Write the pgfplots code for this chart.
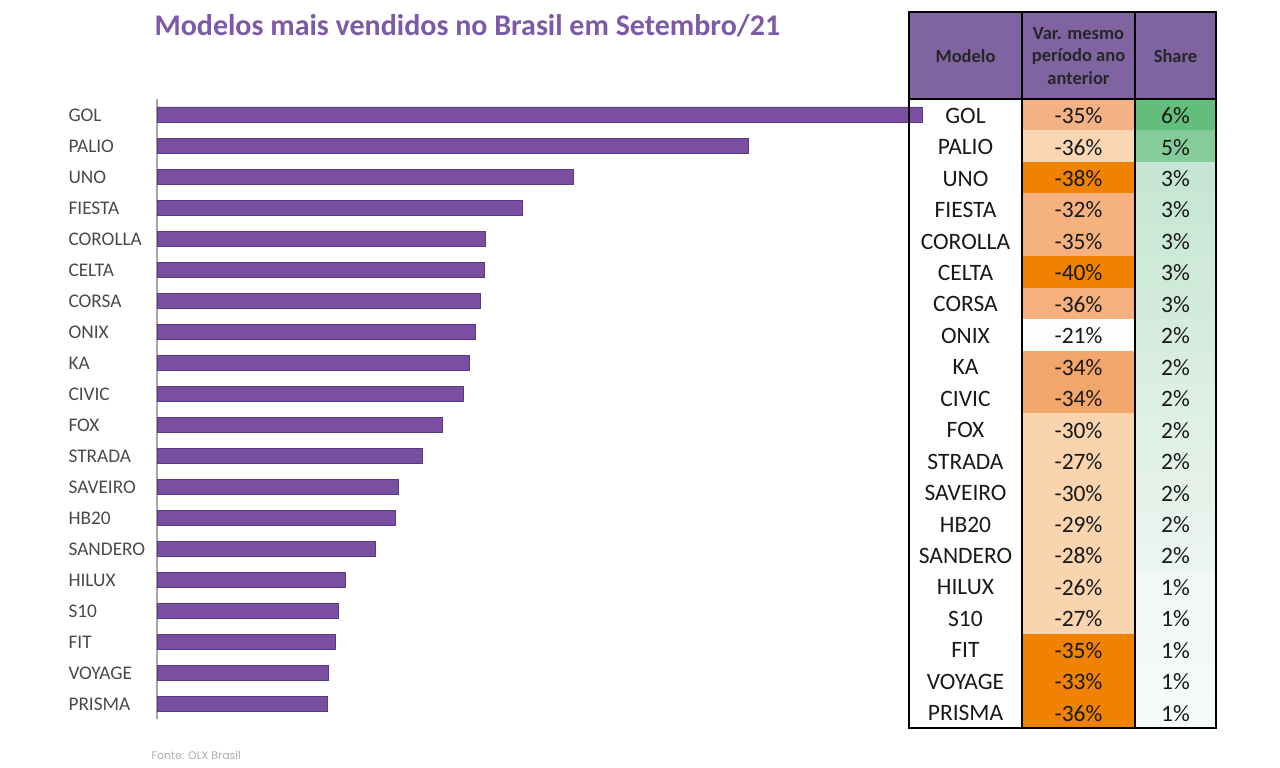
\documentclass[border=0pt]{standalone}
\usepackage{fontspec}
\setmainfont{Carlito}
\newfontfamily\fontefont{Poppins}
\usepackage{pgfplots}
\pgfplotsset{compat=1.18}

\definecolor{barpurple}{HTML}{7A4EA0}
\definecolor{bardark}{HTML}{5A3A7E}
\definecolor{headpurple}{HTML}{8064A2}
\definecolor{titlepurple}{HTML}{7E5AA6}
\definecolor{labelgray}{HTML}{4A4A4A}

\begin{document}
\begin{tikzpicture}[x=1pt,y=1pt]
\useasboundingbox (0,0) rectangle (1280,768);

% title
\node[anchor=west, text=titlepurple, font=\fontsize{30}{34}\selectfont\bfseries]
  at (151,742) {Modelos mais vendidos no Brasil em Setembro/21};

\begin{axis}[
  at={(157pt,49pt)}, anchor=south west,
  scale only axis,
  width=765pt, height=620pt,
  xbar,
  bar width=15pt,
  xmin=0, xmax=765,
  ymin=-0.5, ymax=19.5,
  y dir=reverse,
  axis x line=none,
  axis y line*=left,
  y axis line style={gray!70, line width=1.2pt, -},
  ytick={0,...,19},
  yticklabels={GOL,PALIO,UNO,FIESTA,COROLLA,CELTA,CORSA,ONIX,KA,CIVIC,FOX,STRADA,SAVEIRO,HB20,SANDERO,HILUX,S10,FIT,VOYAGE,PRISMA},
  major tick length=0pt,
  yticklabel style={anchor=west, xshift=-92pt, yshift=-1pt, text=labelgray, font=\fontsize{19.3}{21}\selectfont},
  clip=false,
]
\addplot[fill=barpurple, draw=bardark, line width=0.6pt] coordinates {
  (765,0) (591,1) (416,2) (365,3) (328,4) (327,5) (323,6) (318,7) (312,8) (306,9)
  (285,10) (265,11) (241,12) (238,13) (218,14) (188,15) (181,16) (178,17) (171,18) (170,19)
};
\end{axis}

% table
\fill[headpurple] (909,669) rectangle (1216,756);
\node[font=\fontsize{18.5}{22.5}\selectfont\bfseries, text=black!85] at (965.5,712) {Modelo};
\node[font=\fontsize{18.5}{22.5}\selectfont\bfseries, text=black!85, align=center] at (1078.5,712) {Var. mesmo\\período ano\\anterior};
\node[font=\fontsize{18.5}{22.5}\selectfont\bfseries, text=black!85] at (1175.5,712) {Share};

\foreach \n/\v/\s/\vc/\sc [count=\i from 0] in {
  GOL/-35\%/6\%/F4B183/63BE7B,
  PALIO/-36\%/5\%/F9D7B4/85CC9A,
  UNO/-38\%/3\%/EF8200/C6E6D3,
  FIESTA/-32\%/3\%/F5B27F/C9E7D5,
  COROLLA/-35\%/3\%/F5B27F/CCE8D7,
  CELTA/-40\%/3\%/EF8200/D0EAD9,
  CORSA/-36\%/3\%/F5B07E/D3EBDC,
  ONIX/-21\%/2\%/FDFDFD/D6ECDE,
  KA/-34\%/2\%/F3A66B/D9EEE1,
  CIVIC/-34\%/2\%/F3A66B/DCEFE3,
  FOX/-30\%/2\%/F9D4AE/DFF0E6,
  STRADA/-27\%/2\%/F9D4AE/E2F1E8,
  SAVEIRO/-30\%/2\%/F9D4AE/E5F2EA,
  HB20/-29\%/2\%/F9D4AE/E8F3ED,
  SANDERO/-28\%/2\%/F9D4AE/EBF5EF,
  HILUX/-26\%/1\%/F9D4AE/F2F8F5,
  S10/-27\%/1\%/F9D4AE/F3F8F6,
  FIT/-35\%/1\%/EF8200/F4F9F7,
  VOYAGE/-33\%/1\%/EF8200/F5F9F8,
  PRISMA/-36\%/1\%/EF8200/F6FAF9} {
  \definecolor{vcol}{HTML}{\vc}
  \definecolor{scol}{HTML}{\sc}
  \pgfmathsetmacro{\yt}{669-31.45*\i}
  \pgfmathsetmacro{\yb}{669-31.45*(\i+1)}
  \pgfmathsetmacro{\ym}{669-31.45*(\i+0.5)-1}
  \fill[vcol] (1022,\yb) rectangle (1135,\yt);
  \fill[scol] (1135,\yb) rectangle (1216,\yt);
  \node[font=\fontsize{23.5}{25}\selectfont, text=black!90] at (965.5,\ym) {\n};
  \node[font=\fontsize{23.5}{25}\selectfont, text=black!90] at (1078.5,\ym) {\v};
  \node[font=\fontsize{23.5}{25}\selectfont, text=black!90] at (1175.5,\ym) {\s};
}

% table rules
\draw[black, line width=1.5pt] (1022,40) -- (1022,756);
\draw[black, line width=1.5pt] (1135,40) -- (1135,756);
\draw[black, line width=2pt] (909,669) -- (1216,669);
\draw[black, line width=2pt] (909,40) rectangle (1216,756);

% source
\node[anchor=west, text=gray!65, font=\fontefont\fontsize{11}{13}\selectfont] at (148,13) {Fonte: OLX Brasil};
\end{tikzpicture}
\end{document}
